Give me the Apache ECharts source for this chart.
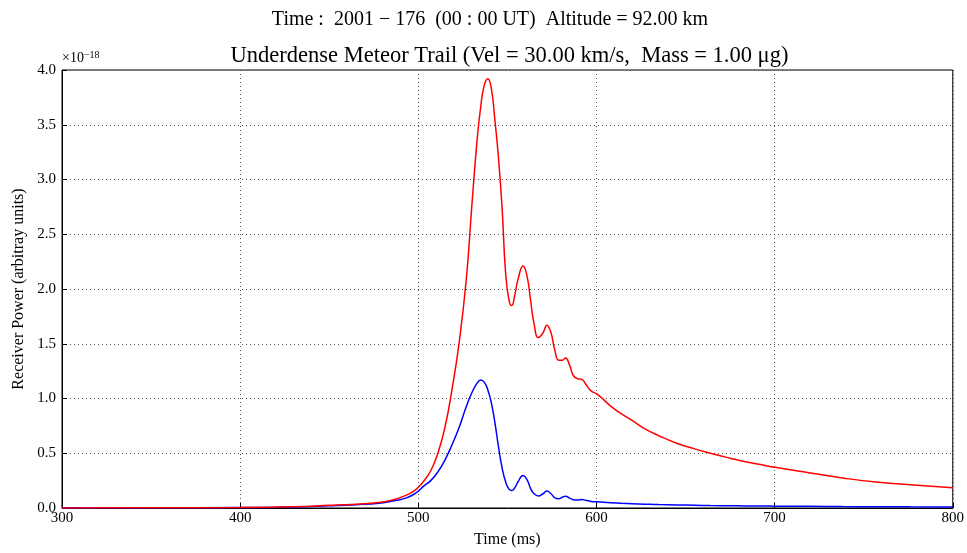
<!DOCTYPE html>
<html>
<head>
<meta charset="utf-8">
<title>Underdense Meteor Trail</title>
<script src="https://cdn.jsdelivr.net/npm/echarts@6/dist/echarts.min.js"></script>
<style>
  html, body { margin: 0; padding: 0; background: #fff; }
  #chart { width: 967px; height: 553px; }
</style>
</head>
<body>
<div id="chart"></div>
<script>
// time (ms) readings
const timeMs = [300, 350, 400, 430, 450, 465, 478, 487, 493, 498, 500, 503, 507, 511, 515, 519, 523, 527, 530,
  533, 535, 537, 539, 541, 543, 545, 547, 549, 551, 552.5, 554, 556, 558.8, 561, 563, 565, 567.4, 570,
  572.2, 574.5, 576.5, 578.8, 580.8, 582.6, 585, 587, 589.4, 591.8, 594, 597, 600.3, 604, 608, 614, 620,
  627, 635, 645, 655, 664, 675, 683, 692, 701, 720, 738, 757, 776, 800];
// receiver power, units of 1e-18
const redPower = [0.001, 0.002, 0.005, 0.012, 0.024, 0.035, 0.05, 0.08, 0.115, 0.16, 0.19, 0.245, 0.34, 0.5, 0.74,
  1.09, 1.52, 2.1, 2.75, 3.36, 3.66, 3.86, 3.92, 3.83, 3.54, 3.2, 2.75, 2.15, 1.89, 1.85, 1.93, 2.09, 2.21,
  2.12, 1.9, 1.68, 1.556, 1.6, 1.67, 1.6, 1.45, 1.35, 1.35, 1.37, 1.3, 1.21, 1.18, 1.175, 1.13, 1.07, 1.04,
  0.99, 0.93, 0.86, 0.8, 0.725, 0.66, 0.592, 0.54, 0.5, 0.455, 0.425, 0.397, 0.37, 0.32, 0.275, 0.237, 0.213,
  0.184];
const bluePower = [0.001, 0.002, 0.004, 0.01, 0.02, 0.03, 0.044, 0.068, 0.09, 0.13, 0.154, 0.2, 0.25, 0.33, 0.44,
  0.58, 0.74, 0.93, 1.05, 1.14, 1.17, 1.15, 1.08, 0.96, 0.78, 0.56, 0.37, 0.24, 0.17, 0.16, 0.18, 0.24, 0.296,
  0.26, 0.18, 0.13, 0.11, 0.13, 0.155, 0.13, 0.095, 0.084, 0.098, 0.108, 0.09, 0.075, 0.072, 0.078, 0.07, 0.06,
  0.056, 0.052, 0.048, 0.043, 0.039, 0.035, 0.031, 0.028, 0.025, 0.022, 0.02, 0.019, 0.018, 0.017, 0.015,
  0.013, 0.012, 0.011, 0.01];

const font = 'Liberation Serif';
const chart = echarts.init(document.getElementById('chart'));

const pairs = (ys) => timeMs.map((t, i) => [t, ys[i]]);

const option = {
  animation: false,
  graphic: [
    { // figure title
      type: 'text',
      x: 490,
      y: 20,
      style: {
        text: 'Time :  2001 − 176  (00 : 00 UT)  Altitude = 92.00 km',
        font: '20px "Liberation Serif"',
        fill: '#000',
        align: 'center',
        verticalAlign: 'middle',
      },
    },
    { // axes title, centred over the plot box
      type: 'text',
      x: 509.5,
      y: 56,
      style: {
        text: 'Underdense Meteor Trail (Vel = 30.00 km/s,  Mass = 1.00 μg)',
        font: '22.5px "Liberation Serif"',
        fill: '#000',
        align: 'center',
        verticalAlign: 'middle',
      },
    },
    { // offset text
      type: 'text',
      left: 62,
      top: 50,
      style: {
        text: '{b|×10}{s|−18}',
        rich: {
          b: { fontSize: 14, fontFamily: font, fill: '#000' },
          s: { fontSize: 10, fontFamily: font, fill: '#000', padding: [0, 0, 7, 0] },
        },
      },
    },
  ],
  grid: {
    left: 62,
    right: 10,
    top: 70,
    bottom: 41,
    show: true,
    borderColor: '#000',
    borderWidth: 1,
  },
  xAxis: {
    type: 'value',
    min: 300,
    max: 800,
    interval: 100,
    name: 'Time (ms)',
    nameLocation: 'middle',
    nameGap: 24,
    nameTextStyle: { fontFamily: font, fontSize: 16, color: '#000' },
    axisLine: { lineStyle: { color: '#000' } },
    axisTick: { inside: true, length: 5, lineStyle: { color: '#000' } },
    axisLabel: { fontFamily: font, fontSize: 15, color: '#000', margin: 3 },
    splitLine: { show: true, lineStyle: { color: '#555', type: [1, 3] } },
  },
  yAxis: {
    type: 'value',
    min: 0,
    max: 4,
    interval: 0.5,
    name: 'Receiver Power (arbitray units)',
    nameLocation: 'middle',
    nameGap: 34,
    nameTextStyle: { fontFamily: font, fontSize: 16, color: '#000' },
    axisLine: { show: true, lineStyle: { color: '#000' } },
    axisTick: { inside: true, length: 5, lineStyle: { color: '#000' } },
    axisLabel: {
      fontFamily: font, fontSize: 15, color: '#000', margin: 6,
      formatter: (v) => v.toFixed(1),
    },
    splitLine: { show: true, lineStyle: { color: '#555', type: [1, 3] } },
  },
  series: [
    {
      name: 'red',
      type: 'line',
      data: pairs(redPower),
      showSymbol: false,
      smooth: 0.5,
      lineStyle: { color: '#ff0000', width: 1.5 },
      z: 3,
    },
    {
      name: 'blue',
      type: 'line',
      data: pairs(bluePower),
      showSymbol: false,
      smooth: 0.5,
      lineStyle: { color: '#0000ff', width: 1.5 },
      z: 2,
    },
  ],
};
chart.setOption(option);
</script>
</body>
</html>
